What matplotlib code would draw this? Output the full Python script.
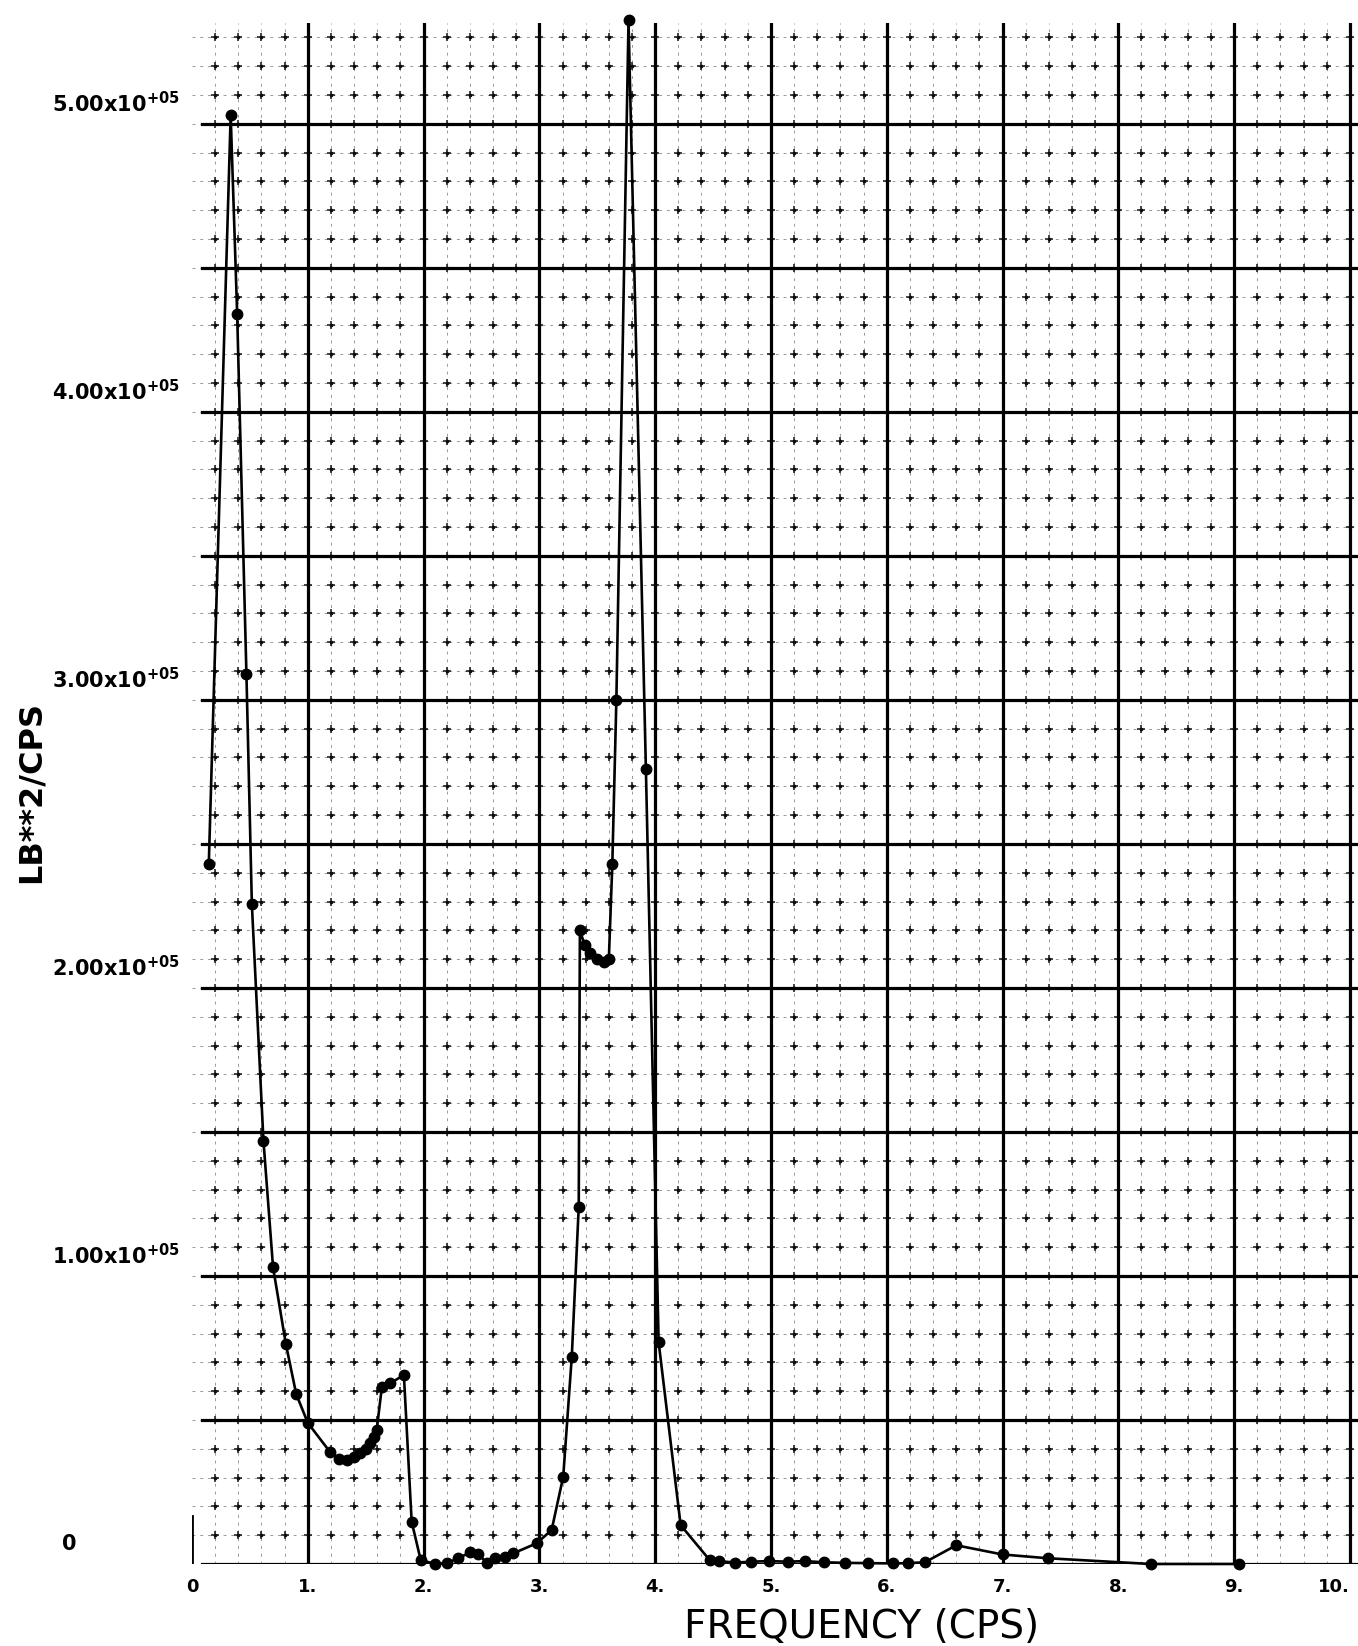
import numpy as np
import matplotlib
matplotlib.use("Agg")
import matplotlib.pyplot as plt
import matplotlib.transforms as mtransforms
from matplotlib.ticker import MultipleLocator

# ---- data (frequency in CPS, PSD in units of 1e5 LB**2/CPS) ----
freq = [0.145, 0.334, 0.39, 0.47, 0.517, 0.617, 0.70, 0.81, 0.90, 1.0,
        1.19, 1.27, 1.336, 1.40, 1.45, 1.50, 1.537, 1.57, 1.595, 1.64,
        1.71, 1.83, 1.897, 1.975, 2.10, 2.20, 2.30, 2.40, 2.47, 2.545,
        2.62, 2.70, 2.775, 2.977, 3.106, 3.206, 3.28, 3.34, 3.35, 3.39,
        3.44, 3.50, 3.56, 3.60, 3.63, 3.665, 3.77, 3.92, 4.03, 4.22,
        4.47, 4.55, 4.69, 4.83, 4.98, 5.15, 5.29, 5.46, 5.64, 5.84,
        6.05, 6.18, 6.33, 6.60, 7.00, 7.39, 8.28, 9.04]
psd_e5 = [2.43, 5.03, 4.34, 3.09, 2.29, 1.47, 1.03, 0.765, 0.59, 0.49,
          0.39, 0.365, 0.36, 0.37, 0.384, 0.40, 0.42, 0.44, 0.465, 0.615,
          0.627, 0.656, 0.147, 0.014, 0.0, 0.003, 0.02, 0.04, 0.035, 0.005,
          0.02, 0.025, 0.037, 0.072, 0.118, 0.303, 0.72, 1.24, 2.20, 2.15,
          2.12, 2.10, 2.09, 2.10, 2.43, 3.0, 5.36, 2.76, 0.77, 0.135,
          0.014, 0.01, 0.005, 0.008, 0.01, 0.008, 0.01, 0.006, 0.004, 0.003,
          0.002, 0.003, 0.006, 0.065, 0.033, 0.02, 0.0, 0.0]

x_tick_values = [0, 1, 2, 3, 4, 5, 6, 7, 8, 9, 10]
x_tick_labels = ["0", "1.", "2.", "3.", "4.", "5.", "6.", "7.", "8.", "9.", "10."]
y_tick_values_e5 = [0, 1, 2, 3, 4, 5]
y_tick_labels = ["0",
                 r"$\mathbf{1.00x10^{+05}}$",
                 r"$\mathbf{2.00x10^{+05}}$",
                 r"$\mathbf{3.00x10^{+05}}$",
                 r"$\mathbf{4.00x10^{+05}}$",
                 r"$\mathbf{5.00x10^{+05}}$"]
x_label = "FREQUENCY (CPS)"
y_label = "LB**2/CPS"

SCALE = 1e5
W, H = 1358, 1646
plt.rcParams["mathtext.fontset"] = "dejavusans"

fig = plt.figure(figsize=(W / 100, H / 100), dpi=100)
fig.patch.set_facecolor("white")
ax = fig.add_axes([192 / W, 82 / H, 1 - 192 / W, (1564 - 23) / H])
XMAX, YMAX = 10.07, 5.35 * SCALE
ax.set_xlim(0, XMAX)
ax.set_ylim(0, YMAX)
for s in ax.spines.values():
    s.set_visible(False)

# minor dashed grid
ax.xaxis.set_minor_locator(MultipleLocator(0.2))
ax.yaxis.set_minor_locator(MultipleLocator(0.1 * SCALE))
ax.set_yticks([])
ax.grid(which="minor", color="0.6", lw=0.7, linestyle=(0, (3, 5)))
ax.tick_params(which="minor", length=0, labelleft=False)

# intersection crosses
gx = np.arange(0.2, XMAX, 0.2)
gy = np.arange(0.1, 5.34, 0.1) * SCALE
GX, GY = np.meshgrid(gx, gy)
ax.scatter(GX.ravel(), GY.ravel(), marker="+", s=30, linewidths=1.2,
           color="0.15", zorder=2)
ax.scatter(GX.ravel(), GY.ravel(), marker="o", s=7, linewidths=0,
           color="0.05", zorder=2)

# major grid
for xv in range(1, 11):
    ax.axvline(xv, color="black", lw=2.3, zorder=3)
for yv in np.arange(0, 5.01, 0.5) * SCALE:
    ax.axhline(yv, xmin=0.09 / XMAX, color="black", lw=2.3, zorder=3)
ax.axvline(0, ymin=0, ymax=0.165 * SCALE / YMAX, color="black", lw=2.0, zorder=3)

# data
ax.plot(freq, np.array(psd_e5) * SCALE, color="black", lw=1.9, marker="o",
        ms=7.5, mfc="black", mec="black", zorder=5, clip_on=False)

# x tick labels
ax.set_xticks(x_tick_values, x_tick_labels, fontsize=13, fontweight="bold")
ax.tick_params(axis="x", which="major", length=0, pad=10)
ax.get_xticklabels()[-1].set_ha("right")

# y tick labels (left-aligned, slightly above the lines)
trans = mtransforms.blended_transform_factory(fig.transFigure, ax.transData) + \
    mtransforms.ScaledTranslation(0, 0.2, fig.dpi_scale_trans)
for v, lab in zip(y_tick_values_e5, y_tick_labels):
    xpos = 62 / W if lab == "0" else 52 / W
    ax.text(xpos, v * SCALE, lab, transform=trans, ha="left", va="center",
            fontsize=15, fontweight="bold", clip_on=False)

fig.text(31 / W, 1 - 792 / H, y_label, rotation=90, ha="center", va="center",
         fontsize=23, fontweight="bold")
fig.text(862 / W, 1 - 1627 / H, x_label, ha="center", va="center", fontsize=28)

fig.savefig("out.png", dpi=100, facecolor="white")
